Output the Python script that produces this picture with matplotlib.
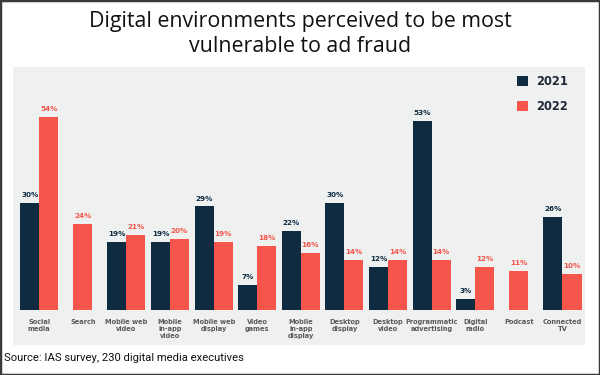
import matplotlib.pyplot as plt
import numpy as np
from matplotlib.patches import Rectangle

categories = ["Social\nmedia", "Search", "Mobile web\nvideo", "Mobile\nin-app\nvideo",
              "Mobile web\ndisplay", "Video\ngames", "Mobile\nin-app\ndisplay",
              "Desktop\ndisplay", "Desktop\nvideo", "Programmatic\nadvertising",
              "Digital\nradio", "Podcast", "Connected\nTV"]
values2021 = [30, None, 19, 19, 29, 7, 22, 30, 12, 53, 3, None, 26]
values2022 = [54, 24, 21, 20, 19, 18, 16, 14, 14, 14, 12, 11, 10]

navy = "#0e2b42"
red = "#f5554a"
width = 0.436

fig = plt.figure(figsize=(6, 3.75), dpi=100)
ax = fig.add_axes([0.021, 0.08, 0.954, 0.742])
ax.set_facecolor("#eff0f0")

for i, (a, b) in enumerate(zip(values2021, values2022)):
    if a is None:
        xa, xb = None, i
    else:
        xa, xb = i - width / 2, i + width / 2
    if a is not None:
        ax.bar(xa, a, width, color=navy, label="2021" if i == 0 else None)
        ax.text(xa, a + 1.4, f"{a}%", ha="center", va="bottom", fontsize=5.2,
                fontweight="bold", color=navy)
    ax.bar(xb, b, width, color=red, label="2022" if i == 0 else None)
    ax.text(xb, b + 1.4, f"{b}%", ha="center", va="bottom", fontsize=5.2,
            fontweight="bold", color=red)
    ax.text(i, -2.6, categories[i], ha="center", va="top", fontsize=4.8,
            fontweight="bold", color="#5a5a5a", linespacing=1.2)

ax.set_xlim(-0.61, 12.516)
ax.set_ylim(-9.8, 68.15)
ax.set_xticks([])
ax.set_yticks([])
for s in ax.spines.values():
    s.set_visible(False)

leg = ax.legend(loc="upper left", bbox_to_anchor=(0.881, 0.97), frameon=False,
                fontsize=8.3, handlelength=1, handleheight=1, handletextpad=0.7,
                labelspacing=1.05, borderpad=0, borderaxespad=0)
for t in leg.get_texts():
    t.set_fontweight("bold")
    t.set_color("#1e2a38")

fig.text(0.5, 1 - 21 / 375, "Digital environments perceived to be most",
         ha="center", va="center", fontsize=15.4, family="Open Sans", color="#111111")
fig.text(0.5, 1 - 47 / 375, "vulnerable to ad fraud",
         ha="center", va="center", fontsize=15.4, family="Open Sans", color="#111111")
fig.text(0.007, 1 - 358 / 375, "Source: IAS survey, 230 digital media executives",
         ha="left", va="center", fontsize=8.1, family="Roboto", color="#111111")

fig.patches.append(Rectangle((0, 0), 1, 1, transform=fig.transFigure, fill=False,
                             edgecolor="#3a3a3a", linewidth=2.5))

fig.savefig("out.png", dpi=100, facecolor="white")
